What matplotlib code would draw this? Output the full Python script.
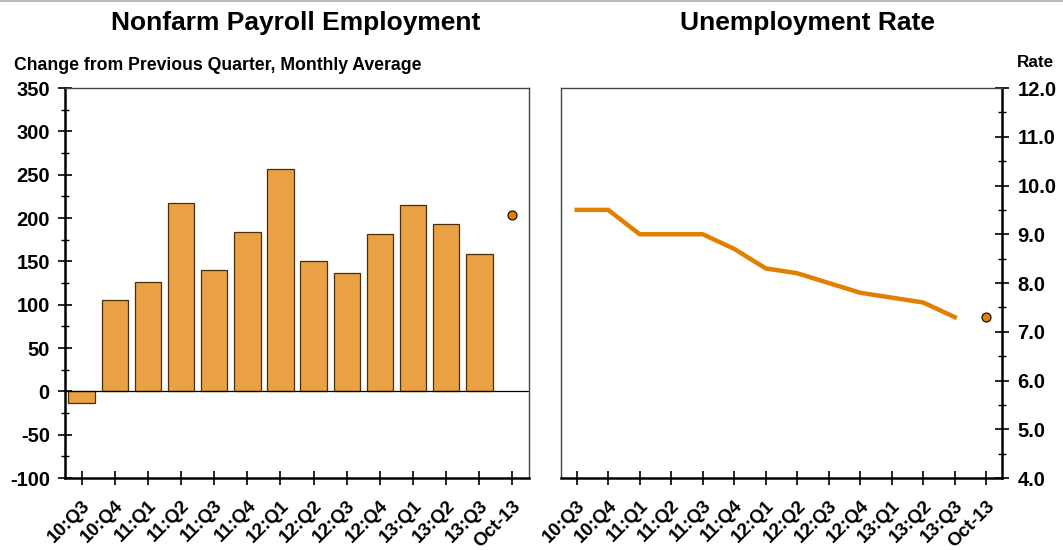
import numpy as np
import matplotlib
matplotlib.use("Agg")
import matplotlib.pyplot as plt
from matplotlib.ticker import MultipleLocator, FormatStrFormatter

plt.rcParams['font.family'] = ['Liberation Sans', 'DejaVu Sans']
plt.rcParams['font.weight'] = 'bold'
plt.rcParams['axes.unicode_minus'] = False

## DATA
quarters = ["10:Q3", "10:Q4", "11:Q1", "11:Q2", "11:Q3", "11:Q4", "12:Q1",
            "12:Q2", "12:Q3", "12:Q4", "13:Q1", "13:Q2", "13:Q3"]
latest_label = "Oct-13"
payroll = [-13, 105, 126, 217, 140, 184, 257, 150, 136, 182, 215, 193, 158]
payroll_latest = 204
unemployment = [9.5, 9.5, 9.0, 9.0, 9.0, 8.7, 8.3, 8.2, 8.0, 7.8, 7.7, 7.6, 7.3]
unemployment_latest = 7.3

tick_labels = quarters + [latest_label]
x = np.arange(len(quarters))
x_latest = len(quarters)

BAR_COLOR = "#EAA144"
LINE_COLOR = "#E37F00"


# shared axis styling for both panels
def style_axis(ax, tick_side):
    ax.set_xlim(-0.5, 13.5)
    ax.set_xticks(np.arange(len(tick_labels)))
    ax.set_xticklabels(tick_labels, rotation=45, ha="right", rotation_mode="anchor",
                       fontsize=13.5, fontweight="bold")
    ax.tick_params(axis="y", which="major", direction="inout", length=10, width=1.2,
                   labelsize=14.5, pad=6)
    ax.tick_params(axis="y", which="minor", direction="inout", length=6, width=1.0)
    ax.tick_params(axis="x", direction="inout", length=10, width=1.2, pad=9)
    for lbl in ax.get_yticklabels():
        lbl.set_fontweight("bold")
    other = "right" if tick_side == "left" else "left"
    for s in [tick_side, "bottom"]:
        ax.spines[s].set_linewidth(1.8)
    for s in ["top", other]:
        ax.spines[s].set_linewidth(1.0)
        ax.spines[s].set_color("#444444")


fig = plt.figure(figsize=(10.63, 5.5), dpi=100)
fig.add_artist(plt.Line2D([0, 1], [0.998, 0.998], color="#BBBBBB", lw=1.5))

# left panel: payroll bars
ax1 = fig.add_axes([0.0612, 0.1309, 0.4365, 0.7091])
ax1.bar(x, payroll, width=0.8, color=BAR_COLOR, edgecolor="#4A2E08", linewidth=0.9)
ax1.scatter([x_latest], [payroll_latest], s=42, color=LINE_COLOR, edgecolor="black",
            linewidth=0.8, zorder=3)
ax1.axhline(0, color="black", lw=0.9)
ax1.set_ylim(-100, 350)
ax1.yaxis.set_major_locator(MultipleLocator(50))
ax1.yaxis.set_minor_locator(MultipleLocator(25))
style_axis(ax1, "left")

# right panel: unemployment rate
ax2 = fig.add_axes([0.5277, 0.1309, 0.4149, 0.7091])
ax2.plot(x, unemployment, color=LINE_COLOR, lw=3.2, solid_joinstyle="miter")
ax2.scatter([x_latest], [unemployment_latest], s=42, color=LINE_COLOR, edgecolor="black",
            linewidth=0.8, zorder=3)
ax2.set_ylim(4, 12)
ax2.yaxis.tick_right()
ax2.yaxis.set_major_locator(MultipleLocator(1))
ax2.yaxis.set_minor_locator(MultipleLocator(0.5))
ax2.yaxis.set_major_formatter(FormatStrFormatter("%.1f"))
style_axis(ax2, "right")

# titles
fig.text(296 / 1063, 1 - 23 / 550, "Nonfarm Payroll Employment", ha="center", va="center",
         fontsize=19, fontweight="bold")
fig.text(808 / 1063, 1 - 23 / 550, "Unemployment Rate", ha="center", va="center",
         fontsize=19, fontweight="bold")
fig.text(14 / 1063, 1 - 66 / 550, "Change from Previous Quarter, Monthly Average",
         ha="left", va="center", fontsize=12.7, fontweight="bold")
fig.text(1035 / 1063, 1 - 62 / 550, "Rate", ha="center", va="center",
         fontsize=12.3, fontweight="bold")

fig.savefig("out.png", dpi=100)
